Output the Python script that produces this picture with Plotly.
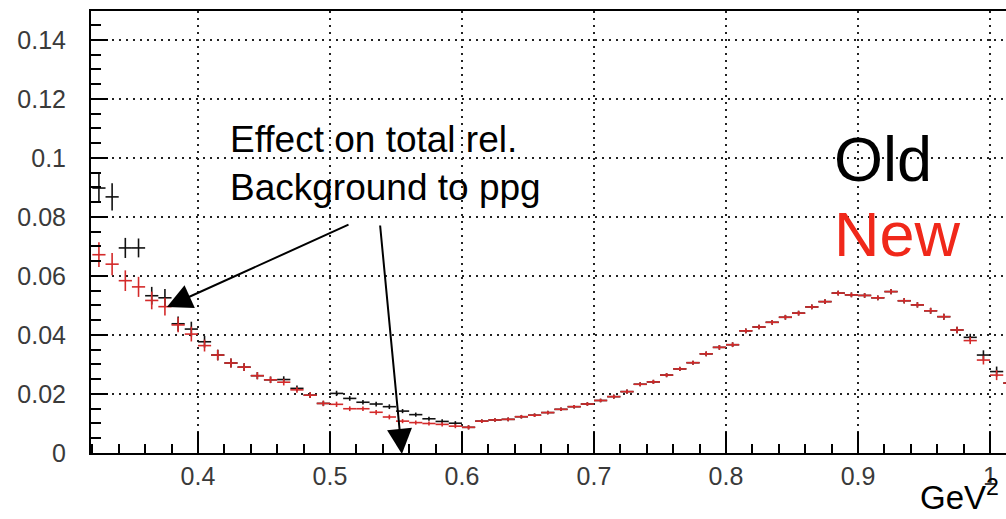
import plotly.graph_objects as go

# bin centres (GeV^2), bin half-width 0.005
bins = [0.325, 0.335, 0.345, 0.355, 0.365, 0.375, 0.385, 0.395, 0.405, 0.415,
        0.425, 0.435, 0.445, 0.455, 0.465, 0.475, 0.485, 0.495, 0.505, 0.515,
        0.525, 0.535, 0.545, 0.555, 0.565, 0.575, 0.585, 0.595, 0.605, 0.615,
        0.625, 0.635, 0.645, 0.655, 0.665, 0.675, 0.685, 0.695, 0.705, 0.715,
        0.725, 0.735, 0.745, 0.755, 0.765, 0.775, 0.785, 0.795, 0.805, 0.815,
        0.825, 0.835, 0.845, 0.855, 0.865, 0.875, 0.885, 0.895, 0.905, 0.915,
        0.925, 0.935, 0.945, 0.955, 0.965, 0.975, 0.985, 0.995, 1.005, 1.015]
half_width = [0.005] * len(bins)

new_vals = [0.0672, 0.0640, 0.0584, 0.0563, 0.0517, 0.0496, 0.0434, 0.0403, 0.0364, 0.0332,
            0.0305, 0.0291, 0.0262, 0.0248, 0.0240, 0.0214, 0.0196, 0.0168, 0.0165, 0.0150,
            0.0150, 0.0138, 0.0122, 0.0108, 0.0103, 0.0100, 0.0097, 0.0091, 0.0087, 0.0108,
            0.0112, 0.0114, 0.0123, 0.0128, 0.0137, 0.0148, 0.0157, 0.0166, 0.0178, 0.0191,
            0.0208, 0.0233, 0.0241, 0.0264, 0.0285, 0.0306, 0.0336, 0.0358, 0.0367, 0.0414,
            0.0427, 0.0443, 0.0460, 0.0474, 0.0495, 0.0513, 0.0542, 0.0536, 0.0534, 0.0526,
            0.0547, 0.0516, 0.0502, 0.0482, 0.0462, 0.0417, 0.0381, 0.0315, 0.0264, 0.0237]
new_err = [0.0042, 0.0038, 0.0035, 0.0034, 0.0030, 0.0030, 0.0025, 0.0025, 0.0020, 0.0018,
           0.0015, 0.0013, 0.0012, 0.0011, 0.0011, 0.0010, 0.0010, 0.0009, 0.0009, 0.0008,
           0.0008, 0.0008, 0.0008, 0.0007, 0.0007, 0.0007, 0.0007, 0.0007, 0.0007, 0.0006,
           0.0006, 0.0006, 0.0006, 0.0006, 0.0006, 0.0006, 0.0006, 0.0006, 0.0006, 0.0007,
           0.0007, 0.0007, 0.0007, 0.0007, 0.0007, 0.0007, 0.0008, 0.0008, 0.0008, 0.0008,
           0.0008, 0.0008, 0.0008, 0.0008, 0.0008, 0.0008, 0.0008, 0.0008, 0.0008, 0.0008,
           0.0009, 0.0009, 0.0009, 0.0010, 0.0010, 0.0011, 0.0012, 0.0015, 0.0017, 0.0018]

old_vals = [0.0898, 0.0868, 0.0695, 0.0695, 0.0533, 0.0526, 0.0438, 0.0420, 0.0377, 0.0332,
            0.0305, 0.0291, 0.0262, 0.0248, 0.0249, 0.0219, 0.0196, 0.0168, 0.0202, 0.0185,
            0.0172, 0.0166, 0.0157, 0.0142, 0.0130, 0.0116, 0.0107, 0.0101, 0.0087, 0.0108,
            0.0112, 0.0114, 0.0123, 0.0128, 0.0137, 0.0148, 0.0157, 0.0166, 0.0178, 0.0191,
            0.0208, 0.0233, 0.0241, 0.0264, 0.0285, 0.0306, 0.0336, 0.0358, 0.0367, 0.0414,
            0.0427, 0.0443, 0.0460, 0.0474, 0.0495, 0.0513, 0.0542, 0.0536, 0.0534, 0.0526,
            0.0547, 0.0516, 0.0502, 0.0482, 0.0462, 0.0417, 0.0392, 0.0332, 0.0276, 0.0237]
old_err = [0.0051, 0.0046, 0.0034, 0.0032, 0.0030, 0.0030, 0.0025, 0.0025, 0.0020, 0.0018,
           0.0015, 0.0013, 0.0012, 0.0011, 0.0011, 0.0010, 0.0010, 0.0009, 0.0009, 0.0008,
           0.0008, 0.0008, 0.0008, 0.0007, 0.0007, 0.0007, 0.0007, 0.0007, 0.0007, 0.0006,
           0.0006, 0.0006, 0.0006, 0.0006, 0.0006, 0.0006, 0.0006, 0.0006, 0.0006, 0.0007,
           0.0007, 0.0007, 0.0007, 0.0007, 0.0007, 0.0007, 0.0008, 0.0008, 0.0008, 0.0008,
           0.0008, 0.0008, 0.0008, 0.0008, 0.0008, 0.0008, 0.0008, 0.0008, 0.0008, 0.0008,
           0.0009, 0.0009, 0.0009, 0.0010, 0.0010, 0.0011, 0.0012, 0.0016, 0.0017, 0.0018]

BLACK = "#111111"
RED = "#d42a2a"
FONT = "Liberation Sans, Arial, sans-serif"


def cross_trace(vals, errs, color, name):
    return go.Scatter(
        x=bins, y=vals, mode="markers", name=name,
        marker=dict(size=1, color=color),
        error_x=dict(type="data", array=half_width, visible=True,
                     color=color, thickness=1.6, width=0),
        error_y=dict(type="data", array=errs, visible=True,
                     color=color, thickness=1.6, width=0),
        hoverinfo="skip",
    )


fig = go.Figure()
fig.add_trace(cross_trace(old_vals, old_err, BLACK, "Old"))
fig.add_trace(cross_trace(new_vals, new_err, RED, "New"))

axis_common = dict(
    showline=True, linecolor="black", linewidth=2,
    ticks="inside", tickcolor="black", tickwidth=2,
    showgrid=True, gridcolor="#222222", gridwidth=1.5, griddash="2px,5px",
    zeroline=False,
    tickfont=dict(family=FONT, size=25, color="#3a3a3a"),
)

fig.update_xaxes(
    range=[0.319, 1.0121], tick0=0, dtick=0.1, ticklen=21,
    minor=dict(dtick=0.02, tick0=0, ticklen=9, ticks="inside",
               tickcolor="black", tickwidth=2, showgrid=False),
    mirror=True, ticklabelstandoff=0,
    **axis_common,
)
fig.update_yaxes(
    range=[0, 0.1498], tick0=0, dtick=0.02, ticklen=17,
    minor=dict(dtick=0.005, tick0=0, ticklen=10, ticks="inside",
               tickcolor="black", tickwidth=2, showgrid=False),
    ticklabelstandoff=18,
    **axis_common,
)

annotations = [
    dict(text="Effect on total rel.<br>Background to ppg", xref="paper", yref="paper",
         x=0.1497, y=0.656, xanchor="left", yanchor="middle", align="left",
         showarrow=False, font=dict(family=FONT, size=37, color="black")),
    dict(text="Old", xref="paper", yref="paper", x=0.810, y=0.665,
         xanchor="left", yanchor="middle", showarrow=False,
         font=dict(family=FONT, size=63, color="black")),
    dict(text="New", xref="paper", yref="paper", x=0.810, y=0.495,
         xanchor="left", yanchor="middle", showarrow=False,
         font=dict(family=FONT, size=63, color="#f0281a")),
    dict(text="GeV<sup>2</sup>", xref="paper", yref="paper", x=0.9945, y=-0.148,
         xanchor="right", yanchor="bottom", showarrow=False,
         font=dict(family=FONT, size=33, color="black")),
    # arrows
    dict(text="", x=0.3765, y=0.0495, xref="x", yref="y",
         ax=0.5152, ay=0.0776, axref="x", ayref="y",
         showarrow=True, arrowhead=2, arrowsize=2.5, arrowwidth=2,
         arrowcolor="black", standoff=0),
    dict(text="", x=0.5545, y=-0.0003, xref="x", yref="y",
         ax=0.5379, ay=0.0776, axref="x", ayref="y",
         showarrow=True, arrowhead=2, arrowsize=2.5, arrowwidth=2,
         arrowcolor="black", standoff=0),
]

fig.update_layout(
    width=1006, height=519,
    margin=dict(l=91, r=0, t=11, b=66),
    paper_bgcolor="white", plot_bgcolor="white",
    showlegend=False,
    annotations=annotations,
    font=dict(family=FONT),
)

fig.write_html("out.html")
